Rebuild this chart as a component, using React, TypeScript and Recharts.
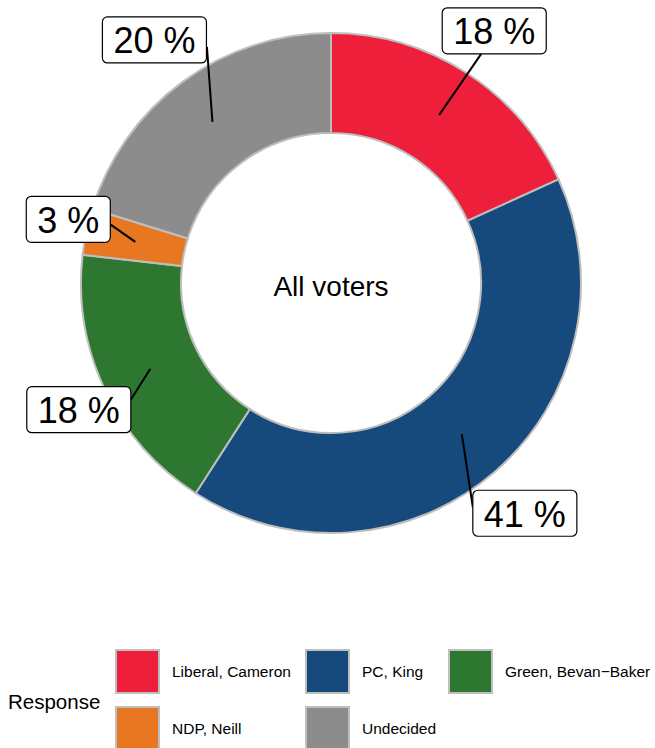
import React from 'react';
import { PieChart, Pie, Cell, Legend } from 'recharts';

const categories = ['Liberal, Cameron', 'PC, King', 'Green, Bevan\u2212Baker', 'NDP, Neill', 'Undecided'];
const shares = [18.2, 40.9, 17.7, 3.0, 20.2];
const colors = ['#ED1F3A', '#174A7C', '#2E7730', '#E87722', '#8C8C8C'];

// where each label box sits relative to its slice anchor, and where its segment meets the box
const labelNudge = [[55, -84], [63, 79], [-71.5, 41], [-67, -22.5], [-58, -82]];
const segmentEnd = [[-13, 23], [-52, -6], [52, -10], [42, 5], [52.5, 7]];

const data = categories.map((name, i) => ({ name, value: shares[i] }));

const FONT = '"Liberation Sans", Arial, Helvetica, sans-serif';
const RAD = Math.PI / 180;
const charW: Record<string, number> = { ' ': 0.278, '%': 0.889 };

const renderLabel = (props: any) => {
  const { cx, cy, midAngle, index, value } = props;
  const inner = props.innerRadius ?? 150;
  const outer = props.outerRadius ?? 250;
  const r = (inner + outer) / 2;
  const ax = cx + r * Math.cos(-midAngle * RAD);
  const ay = cy + r * Math.sin(-midAngle * RAD);
  const bx = ax + labelNudge[index][0];
  const by = ay + labelNudge[index][1];
  const text = `${Math.round(value)} %`;
  const fs = 36;
  const tw = text.split('').reduce((s, c) => s + (charW[c] ?? 0.556), 0) * fs;
  const w = tw + 22;
  const h = 46;
  return (
    <g key={`lab-${index}`}>
      <line
        x1={ax}
        y1={ay}
        x2={bx + segmentEnd[index][0]}
        y2={by + segmentEnd[index][1]}
        stroke="#000"
        strokeWidth={2}
      />
      <rect x={bx - w / 2} y={by - h / 2} width={w} height={h} rx={5} fill="#fff" stroke="#000" strokeWidth={1.2} />
      <text x={bx} y={by + 1} textAnchor="middle" dominantBaseline="central" fontSize={fs} fontFamily={FONT} fill="#000">
        {text}
      </text>
    </g>
  );
};

const keyCols = [115, 305, 448];

const renderLegend = () => (
  <div style={{ position: 'relative', width: 655, height: 108, fontFamily: FONT }}>
    <div style={{ position: 'absolute', left: 8, top: 62, transform: 'translateY(-50%)', fontSize: 20.5, color: '#000' }}>
      Response
    </div>
    {categories.map((name, i) => {
      const row = Math.floor(i / 3);
      const col = i % 3;
      const top = 9 + row * 57;
      const left = keyCols[col];
      return (
        <React.Fragment key={name}>
          <div
            style={{
              position: 'absolute',
              left,
              top,
              width: 41,
              height: 41,
              background: colors[i],
              border: '2px solid #BEBEBE',
            }}
          />
          <div
            style={{
              position: 'absolute',
              left: left + 57,
              top: top + 23,
              transform: 'translateY(-50%)',
              fontSize: 15.5,
              whiteSpace: 'nowrap',
              color: '#000',
            }}
          >
            {name}
          </div>
        </React.Fragment>
      );
    })}
  </div>
);

export default function App() {
  return (
    <div style={{ position: 'absolute', left: 0, top: 0, width: 655, height: 748, background: '#fff', overflow: 'hidden' }}>
      <PieChart width={655} height={748} margin={{ top: 0, right: 0, bottom: 0, left: 0 }}>
        <Pie
          data={data}
          dataKey="value"
          nameKey="name"
          cx={331}
          cy={283}
          innerRadius={150}
          outerRadius={250}
          startAngle={90}
          endAngle={-270}
          stroke="#BEBEBE"
          strokeWidth={2}
          label={renderLabel}
          labelLine={false}
          isAnimationActive={false}
        >
          {data.map((d, i) => (
            <Cell key={d.name} fill={colors[i]} />
          ))}
        </Pie>
        <text x={331} y={286} textAnchor="middle" dominantBaseline="central" fontSize={28} fontFamily={FONT} fill="#000">
          All voters
        </text>
        <Legend
          content={renderLegend}
          wrapperStyle={{ position: 'absolute', left: 0, top: 640, width: 655, height: 108 }}
        />
      </PieChart>
    </div>
  );
}
